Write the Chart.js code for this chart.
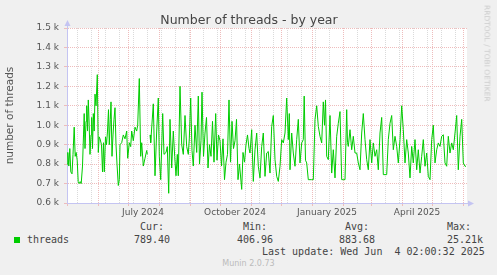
<!DOCTYPE html>
<html>
<head>
<meta charset="utf-8">
<script src="https://cdn.jsdelivr.net/npm/chart.js@4/dist/chart.umd.min.js"></script>
<style>
  html, body { margin: 0; padding: 0; background: #f0f0f0; }
  #wrap { position: relative; width: 497px; height: 275px; overflow: hidden; font-family: "DejaVu Sans", sans-serif; }
  #c { position: absolute; left: 0; top: 0; }
  .t { position: absolute; white-space: pre; }
  .mono { font-family: "DejaVu Sans Mono", monospace; font-size: 10px; line-height: 12px; color: #444; }
  #title { left: 0; width: 498px; top: 12px; text-align: center; font-size: 12.5px; line-height: 15px; color: #444; }
  #munin { left: 0; width: 497px; top: 259px; text-align: center; font-size: 8px; line-height: 10px; color: #bbb; }
  #rrd { left: 487px; top: 5px; font-size: 7.5px; line-height: 9px; color: #ccc; transform-origin: 0 0; transform: rotate(90deg) translate(0, -4.5px); }
  #swatch { position: absolute; left: 14px; top: 237px; width: 6px; height: 6px; background: #00cc00; }
</style>
</head>
<body>
<div id="wrap">
  <canvas id="c" width="497" height="220"></canvas>
  <div class="t" id="title">Number of threads - by year</div>
  <div class="t" id="rrd">RRDTOOL / TOBI OETIKER</div>
  <div class="t mono" style="left:140px;top:221px">Cur:</div>
  <div class="t mono" style="left:243px;top:221px">Min:</div>
  <div class="t mono" style="left:345px;top:221px">Avg:</div>
  <div class="t mono" style="left:447px;top:221px">Max:</div>
  <div id="swatch"></div>
  <div class="t mono" style="left:27px;top:234px">threads</div>
  <div class="t mono" style="left:134px;top:234px">789.40</div>
  <div class="t mono" style="left:237px;top:234px">406.96</div>
  <div class="t mono" style="left:339px;top:234px">883.68</div>
  <div class="t mono" style="left:447px;top:234px">25.21k</div>
  <div class="t mono" style="left:262px;top:246px">Last update: Wed Jun  4 02:00:32 2025</div>
  <div class="t" id="munin">Munin 2.0.73</div>
</div>
<script>
// days since 1 May 2024
var days = [
  0, 0.8, 1.8, 2.8, 3.8, 5, 6, 7.2, 8.2, 9.2, 10.2, 11.2, 12.2, 13.2, 14.2, 15.5, 16.5, 17.2, 18, 19,
  19.7, 20.5, 21.3, 22.2, 23, 24, 24.7, 25.5, 26.3, 27.2, 28, 29, 30.3, 31.3, 32.2, 33, 34.5, 35.5, 36.5, 37.3,
  38.5, 39.5, 40.5, 41.5, 42.3, 43.3, 44, 45, 46, 47, 48, 49, 50, 51.3, 52.3, 53, 54.7, 56.3, 58, 59.7,
  60.7, 62.3, 63.7, 64.7, 66.3, 68, 69.7, 70.7, 72.3, 73.7, 74.7, 76.3, 78, 79.7, 80.3, 81.5, 83, 83.7, 86.3, 88,
  89.7, 91.3, 92.3, 93.7, 95.7, 97, 99, 100.3, 101.7, 103, 104.7, 106.3, 107.7, 109, 110.3, 111.3, 113, 114.7, 116.3, 118,
  119.7, 121.3, 122.3, 123.7, 125, 126.3, 128, 129.7, 131.3, 132.5, 134, 135, 136.5, 138, 139.5, 141, 142.5, 144, 145.5, 147,
  148.7, 150, 151.5, 153, 154.5, 156, 157.5, 159, 160.5, 162, 163.5, 165, 166.5, 168, 169.5, 171, 172.5, 174.7, 176, 177.5,
  179, 180.5, 182, 183, 184.7, 186.3, 188, 189.7, 191.3, 193, 194.7, 196.3, 198, 199.7, 201.3, 203, 204.7, 206.3, 208, 209.7,
  211.3, 213, 214.7, 216.3, 218, 219.7, 221.3, 222.3, 223, 224.7, 226.3, 228, 229.7, 231.3, 233, 234.7, 236.3, 237.2, 238.5, 239.7,
  241.3, 243, 244.7, 246.3, 248, 249.7, 251.3, 253, 254.7, 256.3, 257.5, 258.5, 259.7, 261.3, 263, 264.7, 266.3, 268, 269.7, 271.3,
  273, 274.7, 276.3, 278, 279.7, 280.5, 281.3, 283, 284.7, 286.3, 288, 289.7, 291.3, 293, 294.7, 296.3, 298, 299.7, 301.3, 303,
  304.7, 306.3, 308, 309.7, 311.3, 313, 314.7, 316.3, 318, 319.7, 321.3, 323, 324.7, 326.3, 328, 329.7, 331.3, 333, 334.7, 336.3,
  338, 339.7, 341.3, 343, 344.7, 346.3, 348, 349.7, 351.3, 353, 354.7, 356.3, 358, 359.7, 361.3, 363, 364.7, 366.3, 368, 369.7,
  371.3, 373, 374.7, 376.3, 378, 379.7, 381.3, 383, 384.7, 386.3, 388, 389.7, 391.3, 393, 394.7, 396.3, 398, 399
];
var threads = [
  800, 860, 790, 880, 760, 750, 850, 990, 840, 860, 820, 710, 700, 710, 700, 790, 950, 1060, 880, 1020,
  1100, 970, 1130, 1000, 850, 950, 1040, 880, 1060, 970, 1160, 1100, 1260, 860, 940, 930, 900, 760, 910, 760,
  940, 900, 970, 1080, 900, 1030, 1120, 840, 950, 1030, 1090, 900, 800, 690, 720, 900, 910, 950, 930, 970,
  830, 910, 890, 970, 920, 990, 970, 1000, 1240, 840, 910, 790, 830, 870, 850, null, 950, 910, 1110, 740,
  970, 1140, 840, 720, 1060, 850, 860, 890, 650, 1030, 780, 970, 840, 740, 850, 740, 1200, 900, 850, 1050,
  890, 850, 930, 1140, 870, 790, 1000, 860, 1150, 800, 920, 1170, 840, 960, 1040, 780, 900, 840, 1020, 810,
  1060, 820, 950, 920, 790, 930, 720, 810, 850, 1130, 810, 1020, 880, 920, 1030, 720, 800, 670, 860, 810,
  900, 950, 880, 857, 977, 711, 874, 960, 789, 729, 891, 960, 737, 857, 865, 754, 994, 1050, 823, 737,
  711, 789, 926, 909, 960, 1140, 926, 1060, 771, 960, 857, 789, 926, 1030, 806, 909, 926, 1150, 820, 806,
  720, 720, 720, 720, 1030, 1100, 994, 943, 909, 1120, 1000, 1130, 840, 823, 1050, 754, 874, 729, 943, 1010,
  1070, 720, 720, 720, 1080, 910, 891, 977, 874, 943, 857, 857, 806, 771, 960, 1060, 926, 823, 771, 926,
  806, 909, 840, 874, 771, 960, 1040, 746, 746, 746, 926, 1010, 1050, 874, 943, 891, 806, 926, 1100, 977,
  806, 926, 857, 729, 891, 806, 926, 771, 874, 754, 840, 926, 789, 857, 737, 720, 926, 1000, 806, 874,
  909, 891, 943, 951, 806, 789, 943, 857, 909, 874, 960, 1050, 771, 943, 1030, 806, 789, 789
];
var yTicks = [600, 700, 800, 900, 1000, 1100, 1200, 1300, 1400, 1500];
var monthStarts = [0, 31, 61, 92, 123, 153, 184, 214, 245, 276, 304, 335, 365, 396];
var fortnights = [10, 24, 38, 52, 66, 80, 94, 108, 122, 136, 150, 164, 178, 192, 206, 220, 234, 248, 262, 290, 318, 332, 346, 360, 374, 388];
var labelDays = [76, 168, 260, 350];
var labelText = ['July 2024', 'October 2024', 'January 2025', 'April 2025'];

var MGRID = '#eebcbc';
var GRID = '#dadada';
var AXIS = '#c4c4f2';

var points = days.map(function (d, i) { return { x: d, y: threads[i] }; });
var xTicks = monthStarts.concat(fortnights, labelDays).sort(function (a, b) { return a - b; });

var decor = {
  id: 'decor',
  beforeDraw: function (chart) {
    var a = chart.chartArea, ctx = chart.ctx;
    ctx.save();
    ctx.fillStyle = '#ffffff';
    ctx.fillRect(a.left, a.top, a.right - a.left, a.bottom - a.top);
    ctx.restore();
  },
  afterDraw: function (chart) {
    var a = chart.chartArea, ctx = chart.ctx;
    var lx = Math.round(a.left) + 0.5, by = Math.round(a.bottom) + 0.5;
    ctx.save();
    ctx.strokeStyle = AXIS;
    ctx.fillStyle = AXIS;
    ctx.lineWidth = 1;
    ctx.beginPath();
    ctx.moveTo(lx, a.top); ctx.lineTo(lx, a.top - 4);
    ctx.moveTo(a.right, by); ctx.lineTo(a.right + 3, by);
    ctx.stroke();
    ctx.beginPath();
    ctx.moveTo(lx, a.top - 8); ctx.lineTo(lx - 3, a.top - 2); ctx.lineTo(lx + 3, a.top - 2); ctx.closePath();
    ctx.fill();
    ctx.beginPath();
    ctx.moveTo(a.right + 7, by); ctx.lineTo(a.right + 1, by - 3); ctx.lineTo(a.right + 1, by + 3); ctx.closePath();
    ctx.fill();
    ctx.restore();
  }
};

new Chart(document.getElementById('c'), {
  type: 'line',
  data: {
    datasets: [{
      label: 'threads',
      data: points,
      borderColor: '#00cc00',
      borderWidth: 1,
      pointRadius: 0,
      tension: 0,
      spanGaps: false,
      fill: false
    }]
  },
  plugins: [decor],
  options: {
    responsive: false,
    animation: false,
    events: [],
    layout: { padding: { top: 28, right: 30, bottom: 0, left: 0 } },
    plugins: { legend: { display: false }, tooltip: { enabled: false }, title: { display: false } },
    scales: {
      x: {
        type: 'linear',
        min: 0,
        max: 400,
        afterBuildTicks: function (s) { s.ticks = xTicks.map(function (v) { return { value: v }; }); },
        afterFit: function (s) { s.height = 17; },
        ticks: {
          autoSkip: false,
          maxRotation: 0,
          padding: 1,
          color: '#555',
          font: { family: 'DejaVu Sans', size: 9 },
          callback: function (v) { var i = labelDays.indexOf(v); return i < 0 ? '' : labelText[i]; }
        },
        grid: {
          lineWidth: 1,
          tickLength: 3,
          color: function (c) {
            var v = c.tick ? c.tick.value : -1;
            if (v === 0 || labelDays.indexOf(v) >= 0) return 'transparent';
            return monthStarts.indexOf(v) >= 0 ? MGRID : GRID;
          },
          tickColor: function (c) {
            var v = c.tick ? c.tick.value : -1;
            return monthStarts.indexOf(v) >= 0 ? MGRID : 'transparent';
          }
        },
        border: { color: AXIS, width: 1, dash: [1, 1] }
      },
      y: {
        min: 600,
        max: 1500,
        afterBuildTicks: function (s) { s.ticks = yTicks.map(function (v) { return { value: v }; }); },
        afterFit: function (s) { s.width = 67; },
        ticks: {
          padding: 5,
          color: '#555',
          font: { family: 'DejaVu Sans', size: 9 },
          callback: function (v) { return (v / 1000).toFixed(1) + ' k'; }
        },
        grid: {
          lineWidth: 1,
          tickLength: 3,
          color: function (c) { return c.tick && c.tick.value === 600 ? 'transparent' : MGRID; },
          tickColor: MGRID
        },
        border: { color: AXIS, width: 1, dash: [1, 1] },
        title: {
          display: true,
          text: 'number of threads',
          color: '#555',
          font: { family: 'DejaVu Sans', size: 10.5 },
          padding: { top: 4, bottom: 0 }
        }
      }
    }
  }
});
</script>
</body>
</html>
